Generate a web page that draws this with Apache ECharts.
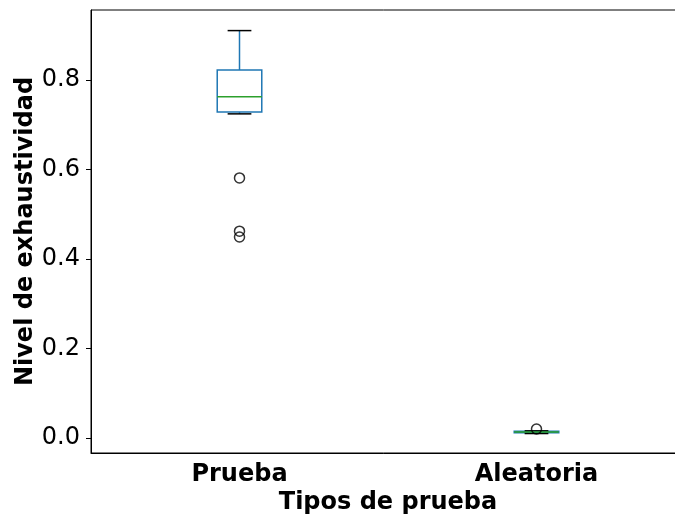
<!DOCTYPE html>
<html>
<head>
<meta charset="utf-8">
<script src="https://cdn.jsdelivr.net/npm/echarts@6/dist/echarts.min.js"></script>
<style>html,body{margin:0;padding:0;background:#fff}#c{width:675px;height:517px}</style>
</head>
<body>
<div id="c"></div>
<script>
const categories = ['Prueba', 'Aleatoria'];
// [whiskerLow, q1, median, q3, whiskerHigh]
const boxStats = [
  [0.724, 0.728, 0.762, 0.822, 0.910],
  [0.010, 0.0115, 0.0135, 0.015, 0.016]
];
const outliers = [
  ['Prueba', 0.581],
  ['Prueba', 0.462],
  ['Prueba', 0.449],
  ['Aleatoria', 0.020]
];
const yTicks = [0.0, 0.2, 0.4, 0.6, 0.8];
const yMin = -0.0335, yMax = 0.956;

const FONT = 'DejaVu Sans';
const chart = echarts.init(document.getElementById('c'));

const boxData = boxStats.map((s, i) => [i].concat(s));

chart.setOption({
  animation: false,
  backgroundColor: '#fff',
  grid: { left: 91, top: 10, width: 594, height: 443, outerBoundsMode: 'none', containLabel: false, show: true, borderColor: '#000', borderWidth: 1, backgroundColor: 'transparent' },
  xAxis: {
    type: 'category',
    data: categories,
    boundaryGap: true,
    name: 'Tipos de prueba',
    nameLocation: 'middle',
    nameGap: 38,
    nameMoveOverlap: false,
    nameTextStyle: { fontFamily: FONT, fontSize: 24, fontWeight: 'bold', color: '#000' },
    axisLine: { onZero: false, lineStyle: { color: '#000', width: 1 } },
    axisTick: { alignWithLabel: true, length: 5, lineStyle: { color: '#000' } },
    axisLabel: { fontFamily: FONT, fontSize: 24, fontWeight: 'bold', color: '#000', margin: 10 },
    splitLine: { show: false }
  },
  yAxis: {
    type: 'value',
    min: yMin,
    max: yMax,
    name: 'Nivel de exhaustividad',
    nameLocation: 'middle',
    nameGap: 53,
    nameMoveOverlap: false,
    nameRotate: 90,
    nameTextStyle: { fontFamily: FONT, fontSize: 24, fontWeight: 'bold', color: '#000' },
    axisLine: { show: true, onZero: false, lineStyle: { color: '#000', width: 1 } },
    axisTick: { show: true, length: 5, lineStyle: { color: '#000' }, customValues: yTicks },
    axisLabel: { fontFamily: FONT, fontSize: 24, color: '#000', margin: 11, customValues: yTicks, formatter: v => v.toFixed(1) },
    splitLine: { show: false }
  },
  series: [
    {
      type: 'custom',
      data: boxData,
      encode: { x: 0, y: [1, 2, 3, 4, 5] },
      renderItem: function (params, api) {
        const x = api.value(0);
        const band = api.size([1, 0])[0];
        const bw = band * 0.15, cw = band * 0.08;
        const pLo = api.coord([x, api.value(1)]);
        const pQ1 = api.coord([x, api.value(2)]);
        const pMed = api.coord([x, api.value(3)]);
        const pQ3 = api.coord([x, api.value(4)]);
        const pHi = api.coord([x, api.value(5)]);
        const cx = pQ1[0];
        const blue = '#1f77b4', green = '#2ca02c';
        return {
          type: 'group',
          children: [
            { type: 'line', shape: { x1: cx, y1: pQ1[1], x2: cx, y2: pLo[1] }, style: { stroke: blue, lineWidth: 1.5 } },
            { type: 'line', shape: { x1: cx, y1: pQ3[1], x2: cx, y2: pHi[1] }, style: { stroke: blue, lineWidth: 1.5 } },
            { type: 'rect', shape: { x: cx - bw / 2, y: pQ3[1], width: bw, height: pQ1[1] - pQ3[1] }, style: { fill: 'none', stroke: blue, lineWidth: 1.5 } },
            { type: 'line', shape: { x1: cx - cw / 2, y1: pLo[1], x2: cx + cw / 2, y2: pLo[1] }, style: { stroke: '#000', lineWidth: 1.5 } },
            { type: 'line', shape: { x1: cx - cw / 2, y1: pHi[1], x2: cx + cw / 2, y2: pHi[1] }, style: { stroke: '#000', lineWidth: 1.5 } },
            { type: 'line', shape: { x1: cx - bw / 2, y1: pMed[1], x2: cx + bw / 2, y2: pMed[1] }, style: { stroke: green, lineWidth: 1.5 } }
          ]
        };
      },
      z: 2
    },
    {
      type: 'scatter',
      data: outliers,
      symbol: 'circle',
      symbolSize: 10,
      itemStyle: { color: 'transparent', borderColor: '#000', borderWidth: 1.5 },
      z: 3
    }
  ]
});
</script>
</body>
</html>
